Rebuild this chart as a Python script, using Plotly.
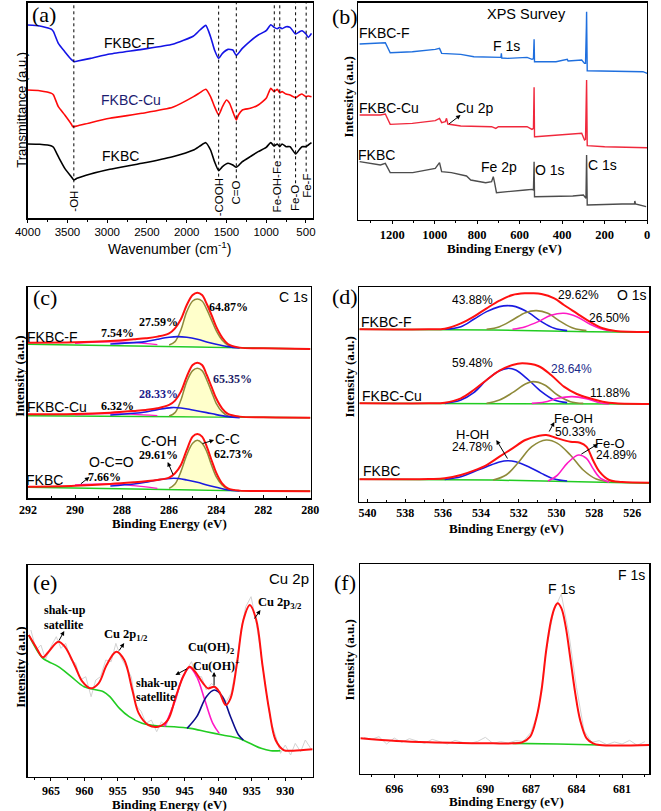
import plotly.graph_objects as go

W, H = 661, 811
SANS = "Liberation Sans, Arial, sans-serif"
SERIF = "Liberation Serif, Times New Roman, serif"

# ---------------- (a) FTIR ----------------
ftir_wn_f = [4000, 3850, 3700, 3676, 3615, 3534, 3453, 3413, 3372, 3210, 2967, 2563, 2177, 1914, 1833, 1760,
             1700, 1650, 1598, 1550, 1480, 1420, 1376, 1300, 1200, 1100, 1000, 942, 900, 860, 830, 800, 750,
             700, 630, 580, 550, 500, 470, 430]
ftir_t_f = [580, 577, 567, 560, 525, 500, 477, 470, 472, 480, 493, 507, 522, 547, 565, 579, 545, 505, 480, 495,
            507, 505, 489, 510, 532, 550, 563, 581, 573, 569, 573, 569, 575, 573, 553, 560, 563, 553, 543, 555]
ftir_wn_cu = [4000, 3850, 3700, 3676, 3615, 3534, 3453, 3433, 3380, 3210, 2967, 2563, 2177, 1914, 1833, 1760,
              1700, 1650, 1598, 1550, 1500, 1460, 1420, 1376, 1350, 1300, 1200, 1100, 1000, 942, 900, 860, 830,
              800, 750, 700, 630, 580, 550, 500, 470, 430]
ftir_t_cu = [385, 383, 375, 370, 335, 310, 283, 275, 277, 287, 300, 315, 333, 365, 377, 387, 365, 335, 310, 335,
             355, 345, 320, 295, 310, 325, 330, 340, 360, 390, 380, 387, 377, 380, 373, 370, 362, 370, 373, 365,
             367, 365]
ftir_wn_b = [4000, 3850, 3700, 3676, 3615, 3534, 3453, 3420, 3380, 3210, 2967, 2563, 2177, 1914, 1833, 1760,
             1700, 1650, 1598, 1550, 1480, 1420, 1376, 1300, 1200, 1100, 1000, 942, 900, 860, 830, 800, 750,
             700, 630, 580, 550, 500, 470, 430]
ftir_t_b = [223, 222, 217, 213, 185, 150, 125, 115, 120, 133, 147, 165, 185, 205, 217, 227, 205, 170, 143, 155,
            165, 160, 153, 170, 185, 200, 213, 227, 217, 223, 215, 223, 215, 215, 193, 207, 215, 215, 220, 227]
ftir_peak_wn = [3420, 1598, 1376, 898, 829, 630, 497]
ftir_peak_end = [90, 125, 120, 180, 180, 105, 140]
ftir_labels = ["-OH", "-COOH", "C=O", "Fe-OH-Fe", "Fe-O", "Fe-F"]
ftir_label_wn = [3420, 1598, 1376, 863, 630, 497]
ftir_label_top = [90, 125, 120, 180, 105, 140]

# ---------------- (b) XPS survey ----------------
sv_e_f = [1353, 1255, 1232, 1209, 1105, 997, 977, 967, 877, 815, 732, 688, 686, 684, 656, 565, 542, 535, 532,
          530, 429, 380, 376, 372, 308, 295, 290, 286, 285, 284, 282, 126, 20, 0]
sv_i_f = [528, 530, 532, 502, 505, 512, 515, 500, 497, 490, 488, 488, 500, 486, 485, 488, 482, 484, 542, 475,
          475, 480, 482, 477, 480, 470, 470, 580, 625, 560, 448, 445, 445, 440]
sv_e_cu = [1353, 1255, 1232, 1209, 1105, 997, 977, 967, 950, 944, 938, 877, 732, 712, 700, 565, 542, 535, 532,
           530, 526, 308, 295, 290, 285, 282, 200, 0]
sv_i_cu = [315, 315, 318, 287, 290, 298, 305, 292, 295, 305, 288, 282, 280, 275, 280, 280, 272, 275, 398, 250,
           250, 260, 240, 242, 420, 223, 220, 217]
sv_e_b = [1353, 1255, 1232, 1209, 1103, 997, 977, 967, 921, 876, 850, 830, 785, 760, 732, 724, 718, 709, 573,
          542, 535, 532, 530, 421, 350, 300, 288, 285, 282, 118, 60, 58, 55, 5]
sv_i_b = [175, 165, 170, 142, 142, 155, 172, 145, 142, 135, 132, 120, 115, 112, 115, 130, 112, 82, 90, 92, 90,
          175, 70, 70, 72, 75, 65, 195, 45, 48, 48, 57, 48, 40]

# ---------------- (c) C 1s ----------------
c1s_e = [292, 290, 288.5, 287.5, 287, 286.5, 286, 285.75, 285.5, 285.25, 285, 284.8, 284.6, 284.4, 284.2, 284,
         283.75, 283.5, 283, 282, 280]
c1s_env_f = [467, 468, 472, 477, 480, 485, 495, 510, 537, 580, 610, 617, 610, 583, 550, 515, 483, 463, 452, 450, 448]
c1s_env_cu = [252, 253, 257, 262, 265, 270, 280, 293, 320, 365, 400, 407, 400, 370, 335, 300, 270, 253, 245, 243, 242]
c1s_env_b = [35, 38, 43, 48, 51, 55, 62, 75, 100, 145, 185, 193, 185, 155, 115, 77, 45, 30, 23, 22, 21]
c1s_cc_e = [286, 285.75, 285.5, 285.25, 285, 284.8, 284.6, 284.4, 284.2, 284, 283.75, 283.5, 283.2]
c1s_cc_f = [460, 470, 505, 560, 592, 598, 592, 567, 535, 503, 475, 460, 454]
c1s_cc_cu = [247, 257, 295, 350, 383, 390, 383, 355, 320, 285, 260, 247, 244]
c1s_cc_b = [30, 43, 80, 130, 165, 174, 165, 140, 100, 65, 40, 27, 24]
c1s_coh_e_f = [288.5, 287.5, 287, 286.5, 286, 285.65, 285.25, 284.8, 284.4, 284, 283.5, 283]
c1s_coh_f = [463, 467, 470, 477, 483, 485, 483, 477, 469, 462, 455, 451]
c1s_coh_e_cu = [288.5, 287.5, 287, 286.5, 285.9, 285.5, 285, 284.4, 284, 283.5, 283]
c1s_coh_cu = [250, 255, 259, 266, 272, 271, 265, 257, 251, 245, 242]
c1s_coh_e_b = [288.5, 287.5, 287, 286.5, 285.8, 285.25, 284.8, 284.4, 284, 283.5, 283]
c1s_coh_b = [37, 43, 48, 55, 60, 55, 48, 40, 33, 25, 22]
c1s_oco_e = [290, 288.5, 287.5, 286.5]
c1s_oco_f = [465, 469, 467, 461]
c1s_oco_cu = [250, 254, 252, 248]
c1s_oco_b = [40, 43, 38, 30]
c1s_bg_e = [292, 283, 280]
c1s_bg_f = [462, 450, 448]
c1s_bg_cu = [248, 242, 242]
c1s_bg_b = [33, 23, 22]

# ---------------- (d) O 1s ----------------
o1s_env_e_f = [540.43, 536.76, 535.91, 535.06, 534.38, 533.70, 533.02, 532.33, 531.65, 531.31, 530.80, 530.12,
               529.61, 528.93, 528.25, 527.56, 526.88, 525.09]
o1s_env_f = [517, 517, 519, 535, 555, 580, 603, 620, 625, 625, 623, 610, 590, 565, 540, 520, 512, 509]
o1s_bg_e_f = [540.43, 533.36, 528.25, 525.09]
o1s_bg_f = [517, 515, 510, 508]
o1s_p1_e = [535.91, 535.06, 534.38, 533.70, 533.02, 532.59, 532.16, 531.48, 530.80, 530.12, 529.44]
o1s_p1_f = [517, 525, 547, 570, 585, 588, 585, 567, 540, 520, 513]
o1s_p2_e_f = [533.70, 533.02, 532.33, 531.65, 531.06, 530.46, 529.78, 529.10, 528.42]
o1s_p2_f = [517, 525, 545, 567, 573, 565, 540, 520, 513]
o1s_p3_e_f = [532.33, 531.65, 530.97, 530.29, 529.61, 528.93, 528.25, 527.56, 527.05]
o1s_p3_f = [517, 525, 540, 559, 565, 555, 533, 517, 512]

o1s_env_e_cu = [540.43, 536.76, 535.91, 535.06, 534.38, 533.70, 533.02, 532.33, 531.82, 530.97, 530.29, 529.61,
                528.93, 528.25, 527.56, 526.88, 525.09]
o1s_env_cu = [295, 295, 297, 310, 335, 365, 393, 410, 415, 407, 380, 345, 323, 310, 300, 295, 293]
o1s_bg_e_cu = [540.43, 525.09]
o1s_bg_cu = [295, 293]
o1s_p1_cu = [295, 305, 327, 365, 393, 400, 395, 365, 330, 305, 297]
o1s_p2_e_cu = [533.70, 533.02, 532.33, 531.65, 531.23, 530.63, 529.95, 529.27, 528.59]
o1s_p2_cu = [295, 305, 327, 353, 360, 350, 320, 300, 295]
o1s_p3_e_cu = [531.31, 530.63, 529.95, 529.18, 528.42, 527.73, 527.22]
o1s_p3_cu = [295, 299, 310, 315, 309, 297, 293]

o1s_env_e_b = [540.43, 536.76, 535.91, 535.06, 534.38, 533.70, 533.02, 532.33, 531.65, 530.97, 530.55, 529.95,
               529.27, 528.76, 528.42, 528.08, 527.73, 527.22, 526.54, 525.09]
o1s_env_b = [67, 68, 70, 80, 93, 110, 135, 160, 185, 197, 200, 190, 180, 177, 165, 125, 90, 65, 59, 57]
o1s_bg_e_b = [540.43, 533.36, 525.09]
o1s_bg_b = [67, 65, 55]
o1s_p1_b = [67, 75, 90, 105, 119, 123, 120, 105, 85, 68, 62]
o1s_p2_e_b = [533.36, 532.67, 531.99, 531.31, 530.55, 529.95, 529.27, 528.59, 527.90, 527.22]
o1s_p2_b = [65, 80, 120, 165, 185, 175, 140, 95, 68, 60]
o1s_p3_e_b = [530.46, 529.95, 529.44, 528.84, 528.42, 528.08, 527.73, 527.22]
o1s_p3_b = [62, 80, 115, 140, 130, 100, 73, 58]

# ---------------- (e) Cu 2p ----------------
cu_env_e = [968.32, 967.26, 966.20, 965.34, 963.89, 962.93, 961.49, 960.29, 959.09, 957.88, 956.68, 955.24,
            954.04, 952.84, 951.88, 950.43, 948.99, 947.55, 946.35, 945.14, 944.28, 943.46, 942.26, 941.54,
            940.58, 939.86, 938.89, 938.17, 937.21, 936.25, 935.29, 934.33, 933.37, 932.40, 931.44, 930.24,
            928.80, 925.91]
cu_env = [425, 390, 358, 375, 405, 390, 335, 285, 265, 280, 335, 375, 350, 260, 190, 155, 150, 170, 240, 305,
          330, 315, 280, 265, 270, 255, 215, 235, 340, 470, 515, 470, 330, 200, 110, 80, 78, 82]
cu_bg_e = [968.32, 967.26, 966.20, 965.34, 963.89, 961.97, 960.05, 958.13, 957.16, 956.20, 954.76, 953.32,
           951.39, 948.99, 946.59, 944.18, 941.78, 939.38, 936.97, 935.05, 933.61, 932.16, 930.72]
cu_bg = [425, 385, 355, 345, 330, 300, 270, 260, 255, 240, 205, 180, 160, 152, 150, 145, 135, 125, 115, 98, 85,
         78, 78]
cu_sat_e = [948.03, 946.59, 945.38, 944.28, 943.22, 942.02, 940.82, 939.86]
cu_sat = [150, 220, 295, 328, 300, 230, 160, 130]
cu_oh_e = [944.66, 943.22, 941.78, 940.58, 939.38, 938.17, 936.97, 936.25]
cu_oh = [145, 180, 240, 260, 240, 180, 125, 110]
cu_raw_e = [968.0, 967.2, 966.5, 965.8, 965.0, 964.2, 963.5, 962.8, 962.0, 961.3, 960.6, 959.8, 959.0, 958.3,
            957.6, 956.8, 956.0, 955.3, 954.6, 953.8, 953.0, 952.3, 951.5, 950.8, 950.0, 949.2, 948.5, 947.8,
            947.0, 946.3, 945.5, 944.8, 944.0, 943.3, 942.5, 941.8, 941.0, 940.3, 939.6, 938.8, 938.1, 937.4,
            936.6, 935.9, 935.1, 934.4, 933.7, 932.9, 932.2, 931.4, 930.7, 930.0, 929.2, 928.5, 927.7, 927.0,
            926.2]
cu_raw = [440, 380, 395, 352, 390, 420, 385, 400, 350, 340, 290, 300, 240, 290, 300, 350, 345, 400, 360, 330,
          300, 215, 195, 160, 170, 135, 165, 150, 205, 230, 290, 320, 345, 300, 300, 260, 280, 265, 250, 225,
          250, 320, 440, 510, 540, 470, 380, 260, 170, 120, 70, 95, 65, 100, 75, 110, 85]

# ---------------- (f) F 1s ----------------
f1s_env_e = [698.23, 695.85, 693.73, 691.61, 689.49, 688.21, 687.58, 687.05, 686.62, 686.30, 685.99, 685.67,
             685.41, 685.24, 684.99, 684.71, 684.39, 684.08, 683.76, 683.33, 682.91, 682.48, 679.20]
f1s_env = [107, 99, 95, 93, 92, 92, 95, 112, 172, 252, 372, 462, 502, 512, 497, 442, 342, 242, 162, 107, 92, 87,
           87]
f1s_bg_e = [688.21, 685.24, 682.48]
f1s_bg = [92, 90, 87]
f1s_raw_e = [698.0, 697.5, 697.0, 696.5, 696.0, 695.5, 695.0, 694.5, 694.0, 693.5, 693.0, 692.5, 692.0, 691.5,
             691.0, 690.5, 690.0, 689.5, 689.0, 688.5, 688.0, 687.5, 687.0, 686.5, 686.0, 685.5, 685.0, 684.5,
             684.0, 683.5, 683.0, 682.5, 682.0, 681.5, 681.0, 680.5, 680.0, 679.5]
f1s_raw = [110, 104, 112, 90, 108, 95, 106, 100, 92, 104, 97, 90, 101, 95, 92, 98, 110, 92, 97, 93, 100, 98, 125,
           190, 370, 490, 540, 420, 260, 130, 95, 100, 88, 96, 90, 101, 86, 97]

# =====================================================================
fig = go.Figure()


def sfx(i):
    return "" if i == 1 else str(i)


def add(i, x, y, color, width=1.5, shape="spline", fill=None, fillcolor=None, smoothing=1.0):
    fig.add_trace(go.Scatter(x=x, y=y, mode="lines",
                             line=dict(color=color, width=width, shape=shape, smoothing=smoothing),
                             xaxis="x" + sfx(i), yaxis="y" + sfx(i), fill=fill, fillcolor=fillcolor,
                             hoverinfo="skip", showlegend=False))


def axes(i, box, xr, yr, dtick, minor, tfont, tickpos="outside"):
    l, t, r, b = box
    s = sfx(i)
    fig.update_layout(**{
        "xaxis" + s: dict(domain=[l / W, r / W], range=xr, anchor="y" + s, dtick=dtick, tick0=0,
                          ticks=tickpos, ticklen=3, tickwidth=1, tickcolor="black",
                          showline=True, linecolor="black", linewidth=1.3, mirror=True,
                          showgrid=False, zeroline=False, tickfont=tfont,
                          minor=dict(dtick=minor, ticks=tickpos, ticklen=2, tickcolor="black")),
        "yaxis" + s: dict(domain=[1 - b / H, 1 - t / H], range=yr, anchor="x" + s,
                          showticklabels=False, ticks="", showline=True, linecolor="black",
                          linewidth=1.3, mirror=True, showgrid=False, zeroline=False),
    })


def txt(x, y, s, size=14, family=SANS, color="black", angle=0, weight="normal", xanchor="center"):
    fig.add_annotation(x=x / W, y=1 - y / H, xref="paper", yref="paper", text=s, showarrow=False,
                       font=dict(size=size, family=family, color=color, weight=weight),
                       textangle=angle, xanchor=xanchor, yanchor="middle")


def arrow(hx, hy, tx, ty):
    fig.add_annotation(x=hx / W, y=1 - hy / H, xref="paper", yref="paper", ax=tx - hx, ay=ty - hy,
                       text="", showarrow=True, arrowhead=2, arrowsize=0.9, arrowwidth=1,
                       arrowcolor="black")


sans_tick = dict(family=SANS, size=11.5, color="black")
serif_tick = dict(family=SERIF, size=12, color="black", weight="bold")

axes(1, (15, 2.7, 310, 218.3), [4003, 415], [0, 647], 500, 250, sans_tick)
axes(2, (357, 2.7, 656, 220), [1360, 0], [0, 652], 200, 100, dict(family=SERIF, size=12.5, color="black", weight="bold"))
axes(3, (15, 287.3, 308, 498.3), [292.02, 279.98], [0, 633], 2, 1, serif_tick, "inside")
axes(4, (358.3, 287.3, 658.3, 501.7), [540.43, 525.09], [0, 643], 2, 1, serif_tick, "inside")
axes(5, (15, 565, 310, 776.7), [968.5, 925.9], [0, 635], 5, 2.5, dict(family=SERIF, size=12, color="black", weight="bold"))
axes(6, (359.3, 564, 658.3, 774), [698.23, 679.2], [0, 630], 3, 1.5, serif_tick)

# (a)
for wn, top in zip(ftir_peak_wn, ftir_peak_end):
    fig.add_shape(type="line", xref="x", yref="y", x0=wn, x1=wn, y0=top, y1=647,
                  line=dict(color="black", width=1, dash="dot"))
add(1, ftir_wn_f, ftir_t_f, "#1414e6", 1.6, smoothing=0.5)
add(1, ftir_wn_cu, ftir_t_cu, "#ff0a0a", 1.6, smoothing=0.5)
add(1, ftir_wn_b, ftir_t_b, "#000000", 1.6, smoothing=0.5)
for lab, wn, top in zip(ftir_labels, ftir_label_wn, ftir_label_top):
    fig.add_annotation(x=wn, y=top, xref="x", yref="y", text=lab, showarrow=False, textangle=-90,
                       yanchor="top", xanchor="center", font=dict(family=SANS, size=11.5, color="black"))

# (b)
add(2, sv_e_f, sv_i_f, "#1f6fde", 1.4, shape="linear")
add(2, sv_e_cu, sv_i_cu, "#f0283c", 1.4, shape="linear")
add(2, sv_e_b, sv_i_b, "#4d4d4d", 1.4, shape="linear")

# (c)
OLIVE = "#8f8a3a"
FILL = "rgba(255,255,160,0.55)"
for env, cc, coh_e, coh, oco, bg in [
    (c1s_env_f, c1s_cc_f, c1s_coh_e_f, c1s_coh_f, c1s_oco_f, c1s_bg_f),
    (c1s_env_cu, c1s_cc_cu, c1s_coh_e_cu, c1s_coh_cu, c1s_oco_cu, c1s_bg_cu),
    (c1s_env_b, c1s_cc_b, c1s_coh_e_b, c1s_coh_b, c1s_oco_b, c1s_bg_b),
]:
    add(3, c1s_bg_e, bg, "#22cc22", 1.5, shape="linear")
    add(3, c1s_oco_e, oco, "#ff1ac6", 1.3)
    add(3, c1s_cc_e, cc, OLIVE, 1.5, fill="toself", fillcolor=FILL)
    add(3, coh_e, coh, "#1a1ae0", 1.6)
    add(3, c1s_e, env, "#ff1010", 2.0)

# (d)
for env_e, env, bg_e, bg, p1, p2_e, p2, p3_e, p3 in [
    (o1s_env_e_f, o1s_env_f, o1s_bg_e_f, o1s_bg_f, o1s_p1_f, o1s_p2_e_f, o1s_p2_f, o1s_p3_e_f, o1s_p3_f),
    (o1s_env_e_cu, o1s_env_cu, o1s_bg_e_cu, o1s_bg_cu, o1s_p1_cu, o1s_p2_e_cu, o1s_p2_cu, o1s_p3_e_cu, o1s_p3_cu),
    (o1s_env_e_b, o1s_env_b, o1s_bg_e_b, o1s_bg_b, o1s_p1_b, o1s_p2_e_b, o1s_p2_b, o1s_p3_e_b, o1s_p3_b),
]:
    add(4, bg_e, bg, "#22cc22", 1.5, shape="linear")
    add(4, o1s_p1_e, p1, "#1a1ae0", 1.6)
    add(4, p2_e, p2, OLIVE, 1.6)
    add(4, p3_e, p3, "#ff1ac6", 1.6)
    add(4, env_e, env, "#ff1010", 2.0)

# (e)
add(5, cu_raw_e, cu_raw, "#d2d2d2", 1.0, shape="linear")
add(5, cu_bg_e, cu_bg, "#22cc22", 1.6)
add(5, cu_sat_e, cu_sat, "#ff1ac6", 1.6)
add(5, cu_oh_e, cu_oh, "#0c0c8c", 1.6)
add(5, cu_env_e, cu_env, "#ff1010", 2.0)

# (f)
add(6, f1s_raw_e, f1s_raw, "#d2d2d2", 1.0, shape="linear")
add(6, f1s_bg_e, f1s_bg, "#22cc22", 1.6)
add(6, f1s_env_e, f1s_env, "#ff1010", 2.0)

# ---------------- text ----------------
for (x, y, s) in [(32, 14, "(a)"), (343, 16, "(b)"), (33, 298, "(c)"), (343, 296, "(d)"), (33, 582, "(e)"), (343, 582, "(f)")]:
    txt(x, y, s, size=22, family=SERIF)

txt(8, 110, "Transmittance (a.u.)", size=13, family=SANS, angle=-90)
txt(162, 248, "Wavenumber (cm<sup>-1</sup>)", size=14, family=SANS)
for (x, y) in [(348, 97), (6, 376), (348, 377), (7, 667), (348, 660)]:
    txt(x, y, "Intensity (a.u.)", size=13, family=SERIF, angle=-90, weight="bold")
for (x, y) in [(508, 248), (162, 523), (510, 528), (162, 804), (510, 801)]:
    txt(x, y, "Binding Energy (eV)", size=13, family=SERIF, weight="bold")

# (a)
txt(121, 43, "FKBC-F", 14)
txt(122, 100, "FKBC-Cu", 14, color="#1c1c70")
txt(111, 156, "FKBC", 14)

# (b)
txt(531, 14, "XPS Survey", 14.5)
txt(384, 33, "FKBC-F", 14)
txt(510, 46, "F 1s", 14)
txt(389, 108, "FKBC-Cu", 14)
txt(478, 108, "Cu 2p", 14)
arrow(463, 115, 450, 125)
txt(376, 155, "FKBC", 14)
txt(503, 167, "Fe 2p", 14)
txt(556, 170, "O 1s", 14)
txt(610, 165, "C 1s", 14)

# (c)
txt(290, 297, "C 1s", 14)
txt(223, 307, "64.87%", 12, SERIF, weight="bold")
txt(150, 322, "27.59%", 12, SERIF, weight="bold")
txt(108, 333, "7.54%", 12, SERIF, weight="bold")
txt(41, 337, "FKBC-F", 14)
txt(227, 379, "65.35%", 12, SERIF, color="#1c1c66", weight="bold")
txt(150, 394, "28.33%", 12, SERIF, color="#1c1c8c", weight="bold")
txt(108, 406, "6.32%", 12, SERIF, weight="bold")
txt(46, 407, "FKBC-Cu", 14)
txt(151, 441, "C-OH", 14)
txt(222, 439, "C-C", 14)
arrow(208, 440, 195, 444)
txt(151, 455, "29.61%", 12, SERIF, weight="bold")
arrow(160, 462, 166, 476)
txt(228, 454, "62.73%", 12, SERIF, weight="bold")
txt(102, 462, "O-C=O", 14)
txt(95, 477, "7.66%", 12, SERIF, weight="bold")
arrow(79, 477, 69, 485)
txt(33, 480, "FKBC", 14)

# (d)
txt(640, 295, "O 1s", 14)
txt(475, 300, "43.88%", 12)
txt(585, 295, "29.62%", 12)
txt(617, 318, "26.50%", 12)
txt(386, 322, "FKBC-F", 14)
txt(475, 363, "59.48%", 12)
txt(578, 369, "28.64%", 12, color="#1a2a8a")
txt(618, 393, "11.88%", 12)
txt(392, 396, "FKBC-Cu", 14)
txt(580, 418, "Fe-OH", 13)
txt(582, 432, "50.33%", 12)
arrow(560, 422, 554, 433)
txt(475, 434, "H-OH", 13)
txt(475, 447, "24.78%", 12)
arrow(500, 440, 512, 460)
txt(618, 443, "Fe-O", 13)
txt(624, 455, "24.89%", 12)
arrow(605, 444, 587, 455)
txt(381, 471, "FKBC", 14)

# (e)
txt(285, 578, "Cu 2p", 15)
txt(276, 603, "Cu 2p<sub>3/2</sub>", 12.5, SERIF, weight="bold")
arrow(256, 610, 249, 620)
txt(54, 610, "shak-up", 12, SERIF, weight="bold")
txt(53, 625, "satellite", 12, SERIF, weight="bold")
arrow(53, 631, 47, 642)
txt(117, 635, "Cu 2p<sub>1/2</sub>", 12.5, SERIF, weight="bold")
arrow(115, 643, 109, 652)
txt(205, 648, "Cu(OH)<sub>2</sub>", 12, SERIF, weight="bold")
txt(210, 665, "Cu(OH)<sup>+</sup>", 12, SERIF, weight="bold")
arrow(208, 672, 208, 687)
txt(149, 683, "shak-up", 12, SERIF, weight="bold")
txt(148, 697, "satellite", 12, SERIF, weight="bold")
arrow(168, 675, 181, 668)

# (f)
txt(640, 575, "F 1s", 14)
txt(567, 589, "F 1s", 14)

fig.update_layout(width=W, height=H, margin=dict(l=0, r=0, t=0, b=0),
                  paper_bgcolor="white", plot_bgcolor="white", showlegend=False)
fig.write_html("out.html", config={"displayModeBar": False, "staticPlot": True},
               post_script="document.body.style.margin='0px';document.body.style.padding='0px';")
